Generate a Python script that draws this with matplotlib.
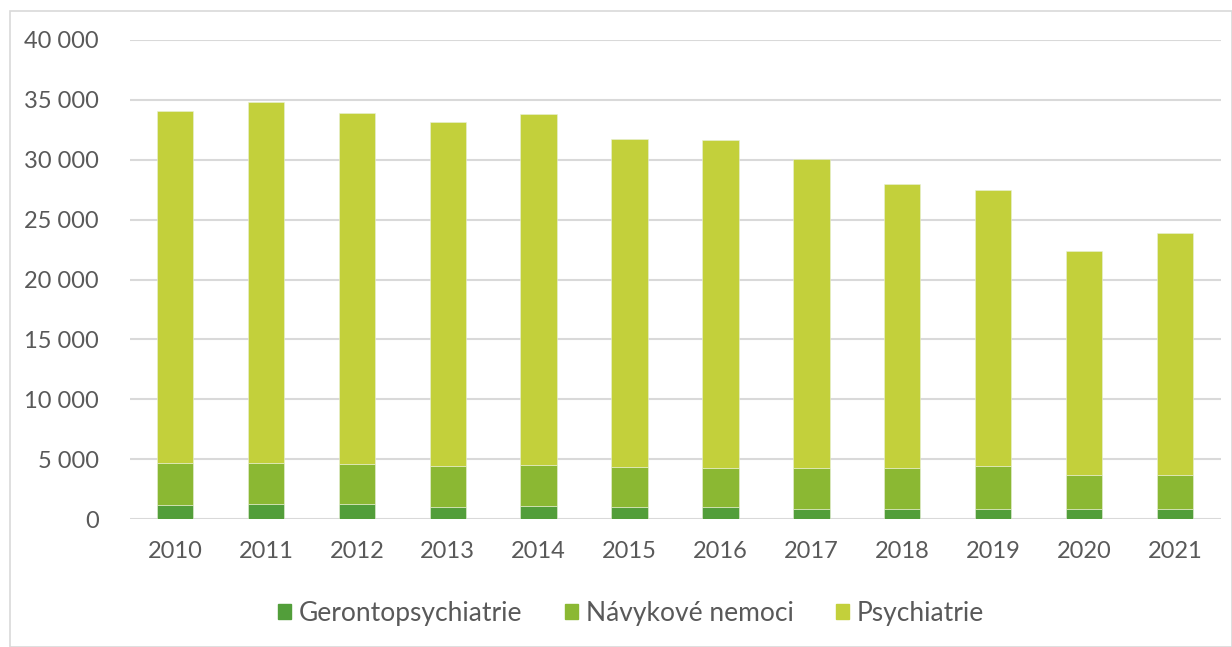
import numpy as np
import matplotlib.pyplot as plt
from matplotlib.patches import Patch, Rectangle
from matplotlib.ticker import FuncFormatter

plt.rcParams['font.family'] = ['Lato', 'DejaVu Sans']

years = ['2010', '2011', '2012', '2013', '2014', '2015',
         '2016', '2017', '2018', '2019', '2020', '2021']
geronto = [1140, 1220, 1220, 1030, 1080, 1000, 1030, 860, 860, 860, 800, 800]
navykove = [3500, 3480, 3380, 3420, 3450, 3360, 3250, 3420, 3420, 3590, 2900, 2900]
psychiatrie = [29470, 30130, 29320, 28720, 29260, 27360, 27390, 25770, 23690, 23000, 18690, 20190]

c_ger = '#529E3A'
c_nav = '#8BB833'
c_psy = '#C3D03B'
txt = '#595959'

fig = plt.figure(figsize=(12.32, 6.47), dpi=100)
ax = fig.add_axes([129.5 / 1232, 1 - 519 / 647, 1091 / 1232, 479 / 647])

x = np.arange(len(years))
w = 0.4
g = np.array(geronto)
n = np.array(navykove)
p = np.array(psychiatrie)

ax.bar(x, g, w, color=c_ger, edgecolor='#E8F0D8', linewidth=0.4, zorder=3)
ax.bar(x, n, w, bottom=g, color=c_nav, edgecolor='#E8F0D8', linewidth=0.4, zorder=3)
ax.bar(x, p, w, bottom=g + n, color=c_psy, edgecolor='#E8F0D8', linewidth=0.4, zorder=3)

ax.set_xlim(-0.5, len(years) - 0.5)
ax.set_ylim(0, 40000)
ax.set_yticks(np.arange(0, 40001, 5000))
ax.yaxis.set_major_formatter(FuncFormatter(lambda v, pos: f'{int(v):,}'.replace(',', ' ')))
ax.set_xticks(x)
ax.set_xticklabels(years)

ax.grid(axis='y', color='#D9D9D9', linewidth=1.5, zorder=0)
for s in ax.spines.values():
    s.set_visible(False)
ax.tick_params(axis='both', length=0, labelsize=17, colors=txt)
ax.tick_params(axis='y', pad=22)
ax.tick_params(axis='x', pad=16)

handles = [Patch(color=c_ger, label='Gerontopsychiatrie'),
           Patch(color=c_nav, label='Návykové nemoci'),
           Patch(color=c_psy, label='Psychiatrie')]
leg = fig.legend(handles=handles, loc='center', bbox_to_anchor=(631 / 1232, 1 - 613 / 647),
                 ncol=3, frameon=False, fontsize=19, handlelength=0.5, handleheight=0.5,
                 handletextpad=0.3, columnspacing=1.6)
for t in leg.get_texts():
    t.set_color(txt)

fig.patches.append(Rectangle((9.5 / 1232, 0), 1 - 10 / 1232, 1 - 10.5 / 647,
                             transform=fig.transFigure, fill=False,
                             edgecolor='#D9D9D9', linewidth=1.2))

fig.savefig('out.png', dpi=100)
